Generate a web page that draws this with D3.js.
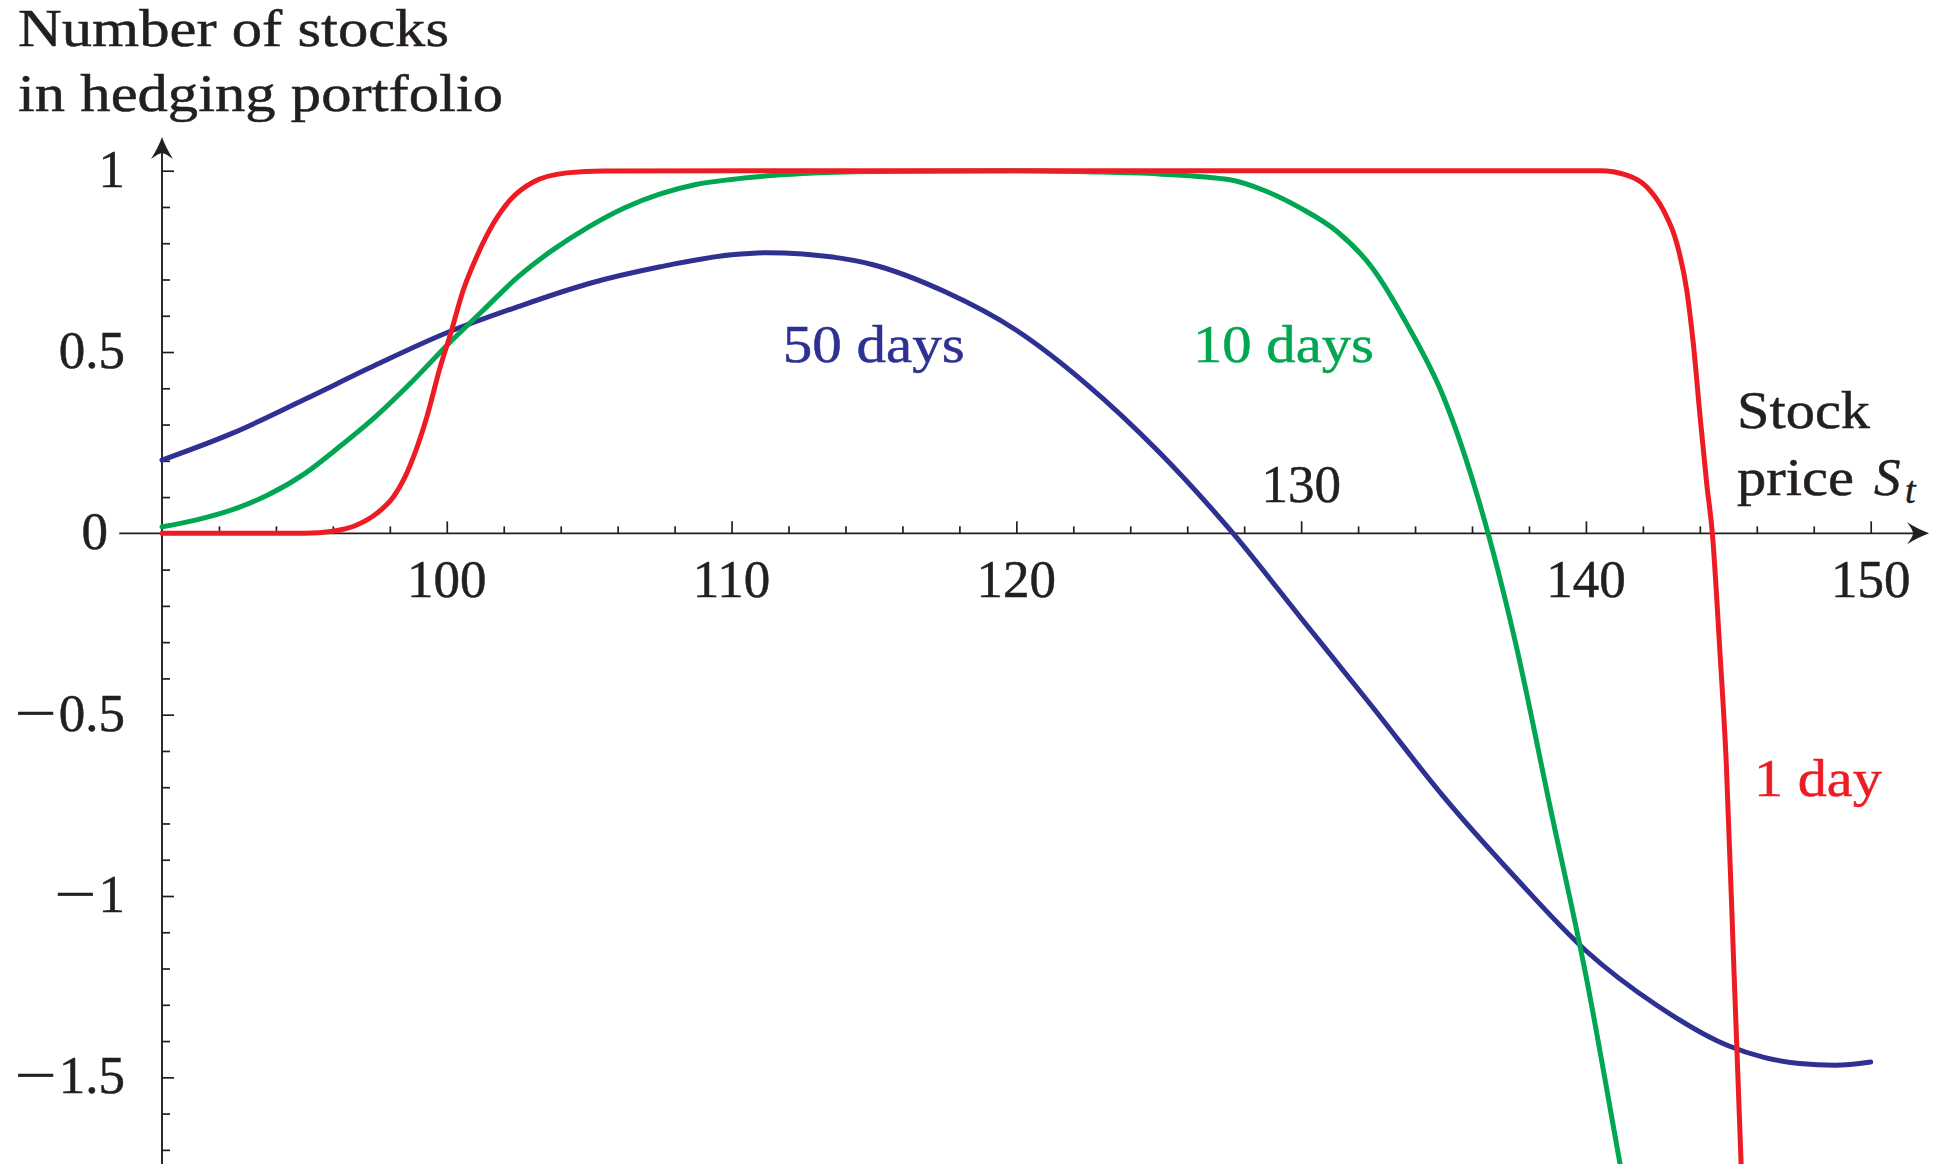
<!DOCTYPE html>
<html>
<head>
<meta charset="utf-8">
<script src="https://cdn.jsdelivr.net/npm/d3@7"></script>
<style>
  html, body { margin: 0; padding: 0; background: #ffffff; }
  svg { display: block; }
  text { font-family: "Liberation Serif", "Times New Roman", serif; font-size: 53px; fill: #231f20; stroke: #231f20; stroke-width: 0.5px; }
</style>
</head>
<body>
<svg id="chart" width="1946" height="1164"></svg>
<script>
// Hedge ratio (number of stocks held) against the stock price S_t,
// for three times to maturity.

// 50 days to maturity
const price50 = [90, 92.5, 95, 97.5, 100, 102.5, 105, 107.5, 110, 111.25, 112.5, 115, 117.5,
                 120, 122.5, 125, 127.5, 130, 132.5, 135, 137.5, 140, 142.5, 145, 146.25, 147.5, 148.75, 150];
const delta50 = [0.202, 0.277, 0.369, 0.464, 0.553, 0.625, 0.689, 0.735, 0.768, 0.774, 0.770, 0.740, 0.666,
                 0.560, 0.409, 0.225, 0.010, -0.234, -0.478, -0.726, -0.947, -1.151, -1.302, -1.413, -1.445, -1.462, -1.467, -1.458];

// 10 days to maturity
const price10 = [90, 91.25, 92.5, 93.75, 95, 96.25, 97.5, 98.75, 100, 101.25, 102.5, 103.75, 105,
                 106.25, 107.5, 108.75, 110, 112.5, 115, 120, 122.5, 125, 127.5, 128.75, 130,
                 131.25, 132.5, 133.75, 135, 136.25, 137.5, 138.75, 140, 141.25, 142.5];
const delta10 = [0.018, 0.038, 0.066, 0.107, 0.164, 0.240, 0.322, 0.416, 0.518, 0.613, 0.707, 0.783, 0.846,
                 0.898, 0.936, 0.962, 0.976, 0.992, 0.998, 1.0, 0.997, 0.991, 0.975, 0.944, 0.896,
                 0.833, 0.732, 0.572, 0.376, 0.087, -0.292, -0.757, -1.219, -1.761, -2.3];

// 1 day to maturity
const price1 = [90, 93, 95, 96, 96.84, 97.54, 98.13, 98.5, 98.83, 99.3, 99.77, 100.12, 100.58, 101.05,
                101.64, 102.22, 103.04, 104.21, 105.5, 120, 140.5, 141.43, 142.13, 142.72, 143.19,
                143.54, 143.77, 144.01, 144.24, 144.44, 144.7, 144.93, 145.2, 145.45, 145.6];
const delta1 = [0, 0, 0.0005, 0.006, 0.023, 0.055, 0.101, 0.15, 0.211, 0.321, 0.459, 0.547, 0.671, 0.763,
                0.855, 0.919, 0.969, 0.994, 0.9995, 1.0, 1.0, 0.988, 0.956, 0.891, 0.80,
                0.671, 0.524, 0.321, 0.138, 0, -0.32, -0.636, -1.209, -1.739, -2.1];

const seriesNames = ["50 days", "10 days", "1 day"];
const xMajorTicks = [100, 110, 120, 130, 140, 150];
const xMinorTicks = d3.range(92, 151, 2);
const yMajorTicks = [1, 0.5, -0.5, -1, -1.5];
const yMinorTicks = d3.range(-17, 11).map(i => i / 10).filter(v => v !== 0);
const yTickLabels = ["1", "0.5", "0", "−0.5", "−1", "−1.5"];
const yTickLabelValues = [1, 0.5, 0, -0.5, -1, -1.5];

const colors = { "50 days": "#2e3192", "10 days": "#00a651", "1 day": "#ed1c24" };
const ink = "#231f20";

const svg = d3.select("#chart");

const x = d3.scaleLinear().domain([90, 150]).range([162, 1870.7]);
const y = d3.scaleLinear().domain([-1.739, 1]).range([1164, 170.7]);

// ---- axes ----
const axisG = svg.append("g");

// x axis line (extends slightly left of the y axis)
axisG.append("line")
  .attr("x1", x(88.5)).attr("x2", x(151.6))
  .attr("y1", y(0)).attr("y2", y(0))
  .attr("stroke", ink).attr("stroke-width", 1.9);

// y axis line
axisG.append("line")
  .attr("x1", x(90)).attr("x2", x(90))
  .attr("y1", y(-1.739)).attr("y2", y(1.085))
  .attr("stroke", ink).attr("stroke-width", 1.9);

// arrow heads
const arrowPath = "M0,0 C-7,-2.5 -15,-6.5 -22,-11 Q-16,-3 -16,0 Q-16,3 -22,11 C-15,6.5 -7,2.5 0,0 Z";
axisG.append("path")
  .attr("d", arrowPath)
  .attr("transform", `translate(${x(152.05)},${y(0)})`)
  .attr("fill", ink);
axisG.append("path")
  .attr("d", arrowPath)
  .attr("transform", `translate(${x(90)},${y(1.093)}) rotate(-90)`)
  .attr("fill", ink);

// tick marks through d3 axes (domain paths removed)
function ticks(axisFn, values, size, transform) {
  const g = axisG.append("g").attr("transform", transform)
    .call(axisFn.tickValues(values).tickSize(size).tickFormat(""));
  g.select(".domain").remove();
  g.selectAll(".tick line").attr("stroke", ink).attr("stroke-width", 1.7);
}
ticks(d3.axisTop(x), xMinorTicks.filter(v => v % 10 !== 0), 7, `translate(0,${y(0)})`);
ticks(d3.axisTop(x), xMajorTicks, 12, `translate(0,${y(0)})`);
ticks(d3.axisRight(y), yMinorTicks.filter(v => Math.abs(v * 2 - Math.round(v * 2)) > 1e-9), 8, `translate(${x(90)},0)`);
ticks(d3.axisRight(y), yMajorTicks, 12, `translate(${x(90)},0)`);

// x tick labels (130 sits above the axis)
xMajorTicks.forEach(v => {
  axisG.append("text")
    .attr("x", x(v)).attr("y", v === 130 ? 502 : 597)
    .attr("text-anchor", "middle")
    .text(String(v));
});

// y tick labels, minus sign drawn wider like a math minus
yTickLabelValues.forEach((v, i) => {
  const label = yTickLabels[i];
  const negative = label.startsWith("−");
  const body = negative ? label.slice(1) : label;
  const right = v === 0 ? 108 : 125;
  const base = y(v) + 16;
  const t = axisG.append("text")
    .attr("x", right).attr("y", base)
    .attr("text-anchor", "end")
    .text(body);
  if (negative) {
    const w = t.node().getComputedTextLength();
    axisG.append("text")
      .attr("text-anchor", "end")
      .attr("transform", `translate(${right - w - 2},${base}) scale(1.4,1)`)
      .text("−");
  }
});

// ---- curves ----
const series = [
  { name: "50 days", xs: price50, ys: delta50, curve: d3.curveMonotoneX },
  { name: "10 days", xs: price10, ys: delta10, curve: d3.curveMonotoneX },
  { name: "1 day",   xs: price1,  ys: delta1,  curve: d3.curveMonotoneX }
];

svg.append("clipPath").attr("id", "plotClip")
  .append("rect").attr("x", 0).attr("y", 0).attr("width", 1946).attr("height", 1164);

const lineG = svg.append("g").attr("clip-path", "url(#plotClip)");
series.forEach(s => {
  const pts = s.xs.map((p, i) => [p, s.ys[i]]);
  const line = d3.line().x(d => x(d[0])).y(d => y(d[1])).curve(s.curve);
  lineG.append("path")
    .attr("d", line(pts))
    .attr("fill", "none")
    .attr("stroke", colors[s.name])
    .attr("stroke-width", 5)
    .attr("stroke-linejoin", "round")
    .attr("stroke-linecap", "round");
});

// ---- series labels ----
const seriesLabelPlacement = [
  { name: "50 days", at: [111.8, 0.473], width: 182 },
  { name: "10 days", at: [126.2, 0.473], width: 181 },
  { name: "1 day",   at: [145.9, -0.725], width: 128 }
];
seriesLabelPlacement.forEach(l => {
  svg.append("text")
    .attr("x", x(l.at[0])).attr("y", y(l.at[1]))
    .attr("textLength", l.width).attr("lengthAdjust", "spacingAndGlyphs")
    .style("fill", colors[l.name]).style("stroke", colors[l.name])
    .text(l.name);
});

// ---- axis titles ----
svg.append("text").attr("x", 18).attr("y", 46)
  .attr("textLength", 431).attr("lengthAdjust", "spacingAndGlyphs")
  .text("Number of stocks");
svg.append("text").attr("x", 18).attr("y", 111)
  .attr("textLength", 485).attr("lengthAdjust", "spacingAndGlyphs")
  .text("in hedging portfolio");

svg.append("text").attr("x", 1737).attr("y", 428)
  .attr("textLength", 133).attr("lengthAdjust", "spacingAndGlyphs")
  .text("Stock");
svg.append("text").attr("x", 1737).attr("y", 495)
  .attr("textLength", 117).attr("lengthAdjust", "spacingAndGlyphs")
  .text("price");
svg.append("text").attr("x", 1874).attr("y", 495)
  .style("font-style", "italic")
  .text("S");
svg.append("text").attr("x", 1905).attr("y", 503)
  .style("font-style", "italic").style("font-size", "38px")
  .text("t");
</script>
</body>
</html>
